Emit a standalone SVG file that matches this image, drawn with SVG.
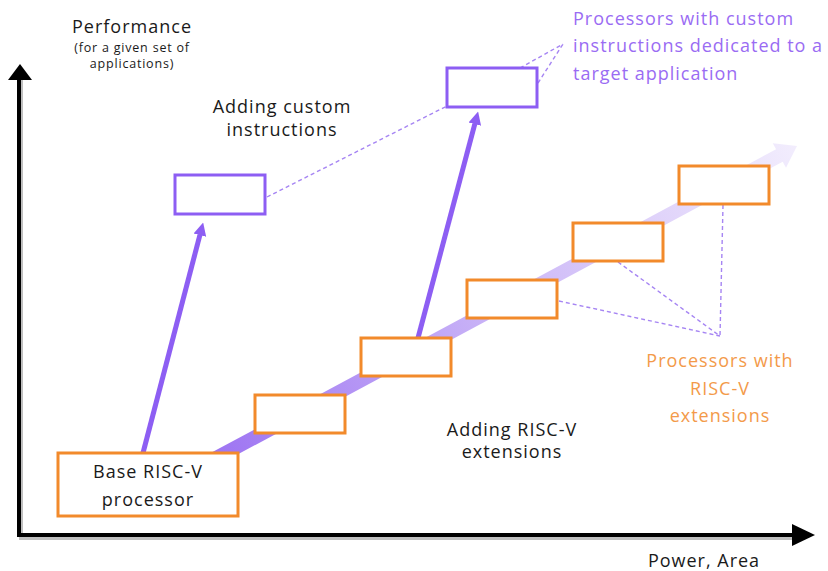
<svg xmlns="http://www.w3.org/2000/svg" width="828" height="571" viewBox="0 0 828 571">
  <style>
    .txt { font-family: "Open Sans", "Liberation Sans", sans-serif; fill: #1a1a1a; }
    .lbl { font-family: "Open Sans", "Liberation Sans", sans-serif; font-size: 18px; letter-spacing: 1px; }
    .small { font-size: 12.5px; letter-spacing: 0.8px; }
    .orange-box { fill: #ffffff; stroke: #F28A2B; stroke-width: 3; }
    .purple-box { fill: #ffffff; stroke: #8D5EF3; stroke-width: 3; }
    .dash { fill: none; stroke: #A685F3; stroke-width: 1.4; stroke-dasharray: 4 3; }
    .jump { stroke: #8D5EF3; stroke-width: 5; fill: none; marker-end: url(#purpleHead); }
    .axis { stroke: #000; stroke-width: 4; fill: none; }
    .axis-shadow { stroke: #000; stroke-opacity: 0.25; stroke-width: 4; fill: none; }
  </style>
  <defs>
    <marker id="purpleHead" viewBox="0 -7 13 14" refX="0.5" refY="0" markerWidth="13" markerHeight="14" markerUnits="userSpaceOnUse" orient="auto">
      <path d="M0,-6.5 L13,0 L0,6.5 z" fill="#8D5EF3"/>
    </marker>
    <linearGradient id="bandGrad" gradientUnits="userSpaceOnUse" x1="205" y1="464" x2="797" y2="146">
      <stop offset="0" stop-color="#9C72F2"/>
      <stop offset="0.5" stop-color="#CBB6F7"/>
      <stop offset="1" stop-color="#F2EDFD"/>
    </linearGradient>
  </defs>

  <!-- axes -->
  <g id="axes">
    <path class="axis-shadow" d="M21,80 V538 H793"/>
    <path class="axis" d="M19,78 V535 H793"/>
    <polygon points="20,64 8,80 32,80" fill="#000"/>
    <polygon points="815,535 792,524 792,546" fill="#000"/>
    <text class="txt lbl" x="132" y="33" text-anchor="middle">Performance</text>
    <text class="txt small" x="132" y="52" text-anchor="middle">(for a given set of</text>
    <text class="txt small" x="132" y="68" text-anchor="middle">applications)</text>
    <text class="txt lbl" x="704" y="567" text-anchor="middle">Power, Area</text>
  </g>

  <!-- broad trend arrow of RISC-V extensions -->
  <g id="trend">
    <polygon fill="url(#bandGrad)" points="208.3,470.2 782.7,161.7 786,167.8 797,146 772.8,143.2 776.1,149.3 201.7,457.8"/>
  </g>

  <!-- connectors -->
  <g id="connectors">
    <line class="jump" x1="143" y1="453" x2="200" y2="234.6"/>
    <line class="jump" x1="418" y1="338" x2="474.9" y2="123.6"/>
    <line class="dash" x1="267" y1="197" x2="447" y2="106"/>
    <line class="dash" x1="520" y1="68" x2="563" y2="44"/>
    <line class="dash" x1="538" y1="83" x2="563" y2="44"/>
    <line class="dash" x1="559" y1="301" x2="720" y2="336"/>
    <line class="dash" x1="618" y1="262" x2="720" y2="336"/>
    <line class="dash" x1="723" y1="205" x2="720" y2="336"/>
  </g>

  <!-- processors -->
  <g id="base">
    <rect class="orange-box" x="58" y="453" width="180" height="63"/>
    <text class="txt lbl" x="148" y="478" text-anchor="middle">Base RISC-V</text>
    <text class="txt lbl" x="148" y="506" text-anchor="middle">processor</text>
  </g>
  <g id="ext1"><rect class="orange-box" x="255" y="395" width="90" height="38"/></g>
  <g id="ext2"><rect class="orange-box" x="361" y="338" width="90" height="38"/></g>
  <g id="ext3"><rect class="orange-box" x="467" y="280" width="90" height="38"/></g>
  <g id="ext4"><rect class="orange-box" x="573" y="223" width="90" height="38"/></g>
  <g id="ext5"><rect class="orange-box" x="679" y="166" width="90" height="38"/></g>
  <g id="custom1"><rect class="purple-box" x="175" y="175" width="90" height="39"/></g>
  <g id="custom2"><rect class="purple-box" x="447" y="68" width="90" height="39"/></g>

  <!-- annotations -->
  <g id="label-custom">
    <text class="txt lbl" x="282" y="113" text-anchor="middle">Adding custom</text>
    <text class="txt lbl" x="282" y="136" text-anchor="middle">instructions</text>
  </g>
  <g id="label-extensions">
    <text class="txt lbl" x="512" y="436" text-anchor="middle">Adding RISC-V</text>
    <text class="txt lbl" x="512" y="458" text-anchor="middle">extensions</text>
  </g>
  <g id="label-custom-procs" fill="#9A6CF3">
    <text class="lbl" x="573" y="25">Processors with custom</text>
    <text class="lbl" x="573" y="52">instructions dedicated to a</text>
    <text class="lbl" x="573" y="80">target application</text>
  </g>
  <g id="label-ext-procs" fill="#F39A4A">
    <text class="lbl" x="720" y="367" text-anchor="middle">Processors with</text>
    <text class="lbl" x="720" y="395" text-anchor="middle">RISC-V</text>
    <text class="lbl" x="720" y="422" text-anchor="middle">extensions</text>
  </g>
</svg>
